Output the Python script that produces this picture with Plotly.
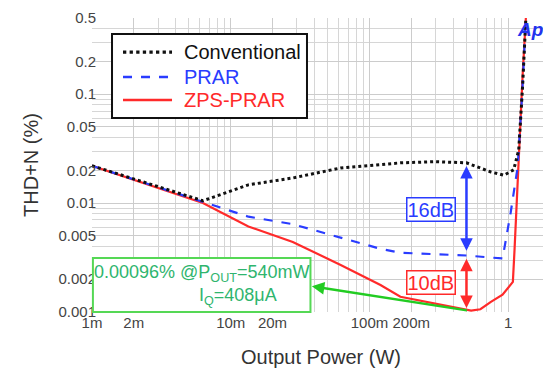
import numpy as np
import plotly.graph_objects as go

# ---- data ----
conv_p = [0.001, 0.0063, 0.0134, 0.028, 0.062, 0.167, 0.3, 0.5, 0.75, 0.93, 1.095, 1.19, 1.27, 1.34]
conv_thd = [0.022, 0.0105, 0.0147, 0.017, 0.021, 0.0234, 0.024, 0.0234, 0.0193, 0.018, 0.0202, 0.0307, 0.12, 0.5]

prar_p = [0.001, 0.0063, 0.0134, 0.028, 0.062, 0.12, 0.167, 0.5, 0.91, 1.04, 1.17, 1.26, 1.34]
prar_thd = [0.022, 0.0103, 0.0075, 0.0064, 0.0048, 0.0038, 0.0035, 0.0033, 0.0031, 0.0081, 0.0215, 0.1, 0.5]

zps_p = [0.001, 0.0063, 0.0134, 0.028, 0.062, 0.12, 0.167, 0.3, 0.54, 0.63, 0.75, 0.91, 1.08, 1.11, 1.19, 1.27, 1.34]
zps_thd = [0.022, 0.0100, 0.0061, 0.0044, 0.0027, 0.00177, 0.00138, 0.00119, 0.00103, 0.00106, 0.00124, 0.00144, 0.00189, 0.0037, 0.03, 0.15, 0.5]

x_tickvals = [0.001, 0.002, 0.01, 0.02, 0.1, 0.2, 1, 2]
x_ticktext = ["1m", "2m", "10m", "20m", "100m", "200m", "1", "2"]
y_tickvals = [0.001, 0.002, 0.005, 0.01, 0.02, 0.05, 0.1, 0.2, 0.5]
y_ticktext = ["0.001", "0.002", "0.005", "0.01", "0.02", "0.05", "0.1", "0.2", "0.5"]

names = ["Conventional", "PRAR", "ZPS-PRAR"]
colors = ["#111111", "#2a3cff", "#ff2a2a"]
dashes = ["dot", "dash", "solid"]
widths = [3, 2.2, 2.2]

note_line1 = "0.00096% @P<sub>OUT</sub>=540mW"
note_line2 = "I<sub>Q</sub>=408μA"

minor_x = [k * 10.0 ** e for e in range(-3, 1) for k in range(1, 10) if k * 10.0 ** e <= 2]
minor_y = [k * 10.0 ** e for e in range(-3, 0) for k in range(1, 10) if k * 10.0 ** e <= 0.5]

FONT = "Arial, Liberation Sans, sans-serif"

fig = go.Figure()
series = [(conv_p, conv_thd), (prar_p, prar_thd), (zps_p, zps_thd)]
for i in [2, 1, 0]:
    px, py = series[i]
    fig.add_trace(go.Scatter(x=px, y=py, mode="lines", name=names[i], showlegend=False,
                             line=dict(color=colors[i], width=widths[i], dash=dashes[i])))

lg = np.log10
p_mark = prar_p[7]
conv_at = conv_thd[conv_p.index(p_mark)]
prar_at = prar_thd[7]
i_min = int(np.argmin(zps_thd))
zps_min_p, zps_min = zps_p[i_min], zps_thd[i_min]

ann = []
ann.append(dict(x=lg(p_mark), y=lg(conv_at) - 0.03, ax=lg(p_mark), ay=lg(prar_at) + 0.03,
                xref="x", yref="y", axref="x", ayref="y", text="", showarrow=True,
                arrowhead=2, startarrowhead=2, arrowside="end+start", arrowsize=1,
                arrowwidth=2.5, arrowcolor="#2a3cff"))
ann.append(dict(x=lg(p_mark), y=lg(prar_at) - 0.03, ax=lg(p_mark), ay=lg(zps_min) + 0.01,
                xref="x", yref="y", axref="x", ayref="y", text="", showarrow=True,
                arrowhead=2, startarrowhead=2, arrowside="end+start", arrowsize=1,
                arrowwidth=2.5, arrowcolor="#ff2a2a"))
ann.append(dict(x=-3 + 0.480 * (lg(2) + 3), y=lg(0.00172), ax=lg(zps_min_p) - 0.02, ay=lg(zps_min),
                xref="x", yref="y", axref="x", ayref="y", text="", showarrow=True,
                arrowhead=2, arrowsize=1, arrowwidth=2.5, arrowcolor="#22cc22"))


def ptext(x, y, text, size, color, xanchor="center", **kw):
    d = dict(x=x, y=y, xref="paper", yref="paper", text=text, showarrow=False,
             xanchor=xanchor, yanchor="middle", font=dict(family=FONT, size=size, color=color))
    d.update(kw)
    return d


ann.append(ptext(0.740, 0.347, "16dB", 20, "#2a3cff", bgcolor="white",
                 bordercolor="#2a3cff", borderwidth=1.5, borderpad=0))
ann.append(ptext(0.740, 0.102, "10dB", 20, "#ff2a2a", bgcolor="white",
                 bordercolor="#ff2a2a", borderwidth=1.5, borderpad=0))
ann.append(ptext(0.240, 0.131, note_line1, 18, "#2fb56e"))
ann.append(ptext(0.319, 0.052, note_line2, 18, "#2fb56e"))
ann.append(ptext(0.988, 0.960, "<b><i>Ap</i></b>", 19, "#2233ee", xanchor="right"))

shapes = [dict(type="rect", xref="paper", yref="paper", x0=0.002, x1=0.477, y0=0.0, y1=0.184,
               line=dict(color="#55d855", width=2), fillcolor="white", layer="above")]

# custom legend
leg_rows = [0.884, 0.799, 0.721]
shapes.append(dict(type="rect", xref="paper", yref="paper", x0=0.0437, x1=0.4694, y0=0.660, y1=0.946,
                   line=dict(color="#111111", width=2), fillcolor="white", layer="above"))
for i in range(3):
    shapes.append(dict(type="line", xref="paper", yref="paper", x0=0.0677, x1=0.1747,
                       y0=leg_rows[i], y1=leg_rows[i], layer="above",
                       line=dict(color=colors[i], width=widths[i] + 0.3, dash=dashes[i])))
    ann.append(ptext(0.1965, leg_rows[i], names[i], 20, colors[i], xanchor="left"))

fig.update_layout(
    width=543, height=363,
    margin=dict(l=84, r=1, t=10, b=59),
    paper_bgcolor="white", plot_bgcolor="white",
    font=dict(family=FONT, color="#333333"),
    showlegend=False,
    xaxis=dict(type="log", range=[-3, lg(2)], tickmode="array", tickvals=x_tickvals,
               ticktext=x_ticktext, showgrid=True, gridcolor="#cccccc", gridwidth=1,
               minor=dict(tickmode="array", tickvals=minor_x, showgrid=True,
                          gridcolor="#d6d6d6", gridwidth=1, ticks=""),
               zeroline=False, showline=False, ticks="",
               tickfont=dict(family=FONT, size=15, color="#444444"),
               title=dict(text="Output Power (W)", font=dict(family=FONT, size=20, color="#333333"),
                          standoff=19)),
    yaxis=dict(type="log", range=[-3, lg(0.5)], tickmode="array", tickvals=y_tickvals,
               ticktext=y_ticktext, showgrid=True, gridcolor="#cccccc", gridwidth=1,
               minor=dict(tickmode="array", tickvals=minor_y, showgrid=True,
                          gridcolor="#d6d6d6", gridwidth=1, ticks=""),
               zeroline=False, showline=False, ticks="", ticklabelstandoff=-5,
               tickfont=dict(family=FONT, size=15, color="#444444"),
               title=dict(text="THD+N (%)", font=dict(family=FONT, size=20, color="#333333"),
                          standoff=14)),
    annotations=ann,
    shapes=shapes,
)

fig.write_html("out.html")
